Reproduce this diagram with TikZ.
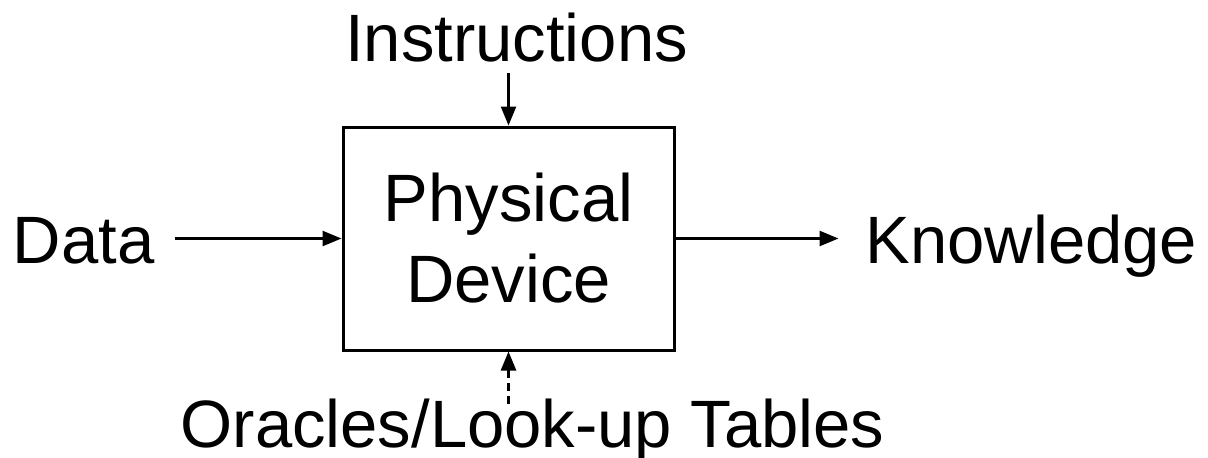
\documentclass[tikz,border=0pt]{standalone}
\usepackage{fontspec}
\setmainfont{Liberation Sans}
\usetikzlibrary{arrows.meta, positioning}

\begin{document}
\begin{tikzpicture}[
    x=1pt, y=1pt,
    every node/.style={font=\fontsize{67}{81}\selectfont, align=center},
    devicebox/.style={rectangle, draw=black, line width=3pt, minimum width=331pt, minimum height=223pt, inner sep=0pt},
    sidetext/.style={inner xsep=20pt, inner ysep=0pt, text height=49pt, text depth=0pt},
    toptext/.style={inner xsep=0pt, inner ysep=11pt, text height=49pt, text depth=0pt},
    arrow/.style={-{Triangle[length=19pt, width=15pt]}, draw=black, line width=2.5pt},
    dasharrow/.style={arrow, dash pattern=on 8pt off 5pt}
  ]
    \useasboundingbox (0,0) rectangle (1208,-458);

    % Device in the middle
    \node[devicebox] (device) at (508.5,-238.5) {Physical\\Device};

    % Inputs and output
    \node[sidetext, left=167pt of device] (data) {Data};
    \node[sidetext, inner xsep=27pt, right=163pt of device] (knowledge) {Knowledge};
    \node[toptext, above=52.5pt of device, xshift=8pt] (instructions) {Instructions};
    \node[toptext, inner ysep=0pt, below=46.5pt of device, xshift=24pt] (tables) {Oracles/Look-up Tables};

    % Connections
    \draw[arrow] (data) -- (device);
    \draw[arrow] (device) -- (knowledge);
    \draw[arrow] (instructions.south -| device.north) -- (device.north);
    \draw[dasharrow] ([yshift=-6pt]tables.north -| device.south) -- (device.south);
\end{tikzpicture}
\end{document}
